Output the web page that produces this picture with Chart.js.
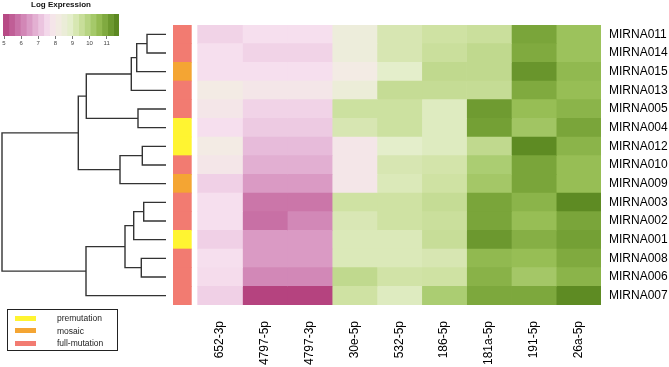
<!DOCTYPE html>
<html><head><meta charset="utf-8">
<script src="https://cdn.jsdelivr.net/npm/chart.js@4.4.1/dist/chart.umd.min.js"></script>
<style>
html,body{margin:0;padding:0;background:#fff;width:669px;height:367px;overflow:hidden;font-family:'Liberation Sans',Arial,sans-serif;}
canvas{position:absolute;display:block;}
#legend{position:absolute;left:7px;top:309px;width:111px;height:42px;box-sizing:border-box;border:1.5px solid #222;}
#legend .it{position:absolute;left:0;height:10px;width:110px;}
#legend .sw{position:absolute;left:7px;top:2.5px;width:21px;height:5px;}
#legend .tx{position:absolute;left:49px;top:0;font-size:8.5px;line-height:10px;color:#222;white-space:nowrap;}
</style></head><body>
<canvas id="main" width="669" height="367" style="left:0;top:0"></canvas>
<canvas id="dendro" width="170" height="280" style="left:0;top:25px"></canvas>
<canvas id="key" width="125" height="52" style="left:0;top:0"></canvas>
<div id="legend"></div>
<script>
// ---------- DATA ----------
const rowLabels = ['MIRNA011','MIRNA014','MIRNA015','MIRNA013','MIRNA005','MIRNA004','MIRNA012','MIRNA010','MIRNA009','MIRNA003','MIRNA002','MIRNA001','MIRNA008','MIRNA006','MIRNA007'];
const colLabels = ['652-3p','4797-5p','4797-3p','30e-5p','532-5p','186-5p','181a-5p','191-5p','26a-5p'];
const rowGroups = ['full-mutation','full-mutation','mosaic','full-mutation','full-mutation','premutation','premutation','full-mutation','mosaic','full-mutation','full-mutation','premutation','full-mutation','full-mutation','full-mutation'];
const groupNames = ['premutation','mosaic','full-mutation'];

// log expression per miRNA column (rows in order of rowLabels)
const e652_3p  = [7.4, 7.6, 7.6, 8.1, 7.9, 7.6, 8.1, 7.9, 7.35, 7.6, 7.6, 7.35, 7.6, 7.55, 7.35];
const e4797_5p = [7.6, 7.4, 7.6, 7.9, 7.4, 7.25, 7.0, 6.8, 6.45, 5.85, 5.75, 6.45, 6.45, 6.15, 5.0];
const e4797_3p = [7.6, 7.4, 7.6, 7.9, 7.4, 7.25, 7.0, 6.8, 6.45, 5.85, 6.15, 6.45, 6.45, 6.15, 5.0];
const e30e_5p  = [8.4, 8.4, 8.1, 8.5, 9.45, 9.2, 7.9, 7.9, 7.9, 9.4, 9.15, 9.1, 9.1, 9.7, 9.4];
const e532_5p  = [9.2, 9.2, 8.85, 9.6, 9.45, 9.45, 8.85, 9.2, 9.1, 9.4, 9.4, 9.1, 9.1, 9.35, 9.0];
const e186_5p  = [9.4, 9.5, 9.7, 9.6, 9.0, 9.0, 9.0, 9.3, 9.4, 9.6, 9.5, 9.55, 9.2, 9.4, 10.1];
const e181a_5p = [9.5, 9.7, 9.7, 9.6, 11.2, 11.1, 9.7, 10.1, 10.25, 11.0, 11.0, 11.25, 10.6, 10.75, 10.95];
const e191_5p  = [11.0, 10.9, 11.3, 10.9, 10.5, 10.3, 11.5, 11.0, 11.0, 10.7, 10.5, 10.8, 10.5, 10.25, 10.95];
const e26a_5p  = [10.4, 10.4, 10.6, 10.5, 10.7, 11.0, 10.7, 10.5, 10.5, 11.5, 11.0, 11.1, 10.9, 10.7, 11.5];

// dendrogram: merges [childA, childB, height]; leaves 0..14 (display order), merges numbered from 15
const dendroMerges = [
  [0, 1, 1.9], [15, 2, 2.93], [16, 3, 3.47], [4, 5, 2.8], [17, 18, 7.97],
  [6, 7, 2.37], [20, 8, 4.6], [19, 21, 8.77],
  [9, 10, 2.23], [23, 11, 3.23], [12, 13, 2.47], [24, 25, 4.1], [26, 14, 8.0],
  [22, 27, 16.4]
];

// colour key
const keyBreaks = [4.94, 5.28, 5.62, 5.96, 6.3, 6.64, 6.98, 7.32, 7.66, 8.0, 8.34, 8.68, 9.02, 9.36, 9.7, 10.04, 10.38, 10.72, 11.06, 11.4, 11.72];
const keyTicks = [5, 6, 7, 8, 9, 10, 11];

// ---------- STYLE ----------
const groupColors = {'premutation':'#FFF431','mosaic':'#F4A533','full-mutation':'#F27B71'};
const colorStops = [
  [4.9,'#B23D7A'],[5.75,'#C870A5'],[6.45,'#DA9AC4'],[7.0,'#E7BBDA'],[7.6,'#F6DFEE'],
  [8.1,'#F3EBE4'],[8.8,'#E6EFCF'],[9.4,'#CFE2A3'],[10.1,'#ABCD72'],[10.5,'#97BE55'],
  [11.0,'#7AA53A'],[11.5,'#5E8B23'],[11.8,'#527D1A']
];
function hex(h){return [1,3,5].map(i=>parseInt(h.substr(i,2),16));}
function colorFor(v){
  if (v <= colorStops[0][0]) return colorStops[0][1];
  for (let i=1;i<colorStops.length;i++){
    if (v <= colorStops[i][0]){
      const [v0,c0]=colorStops[i-1],[v1,c1]=colorStops[i];
      const t=(v-v0)/(v1-v0), a=hex(c0), b=hex(c1);
      return 'rgb('+a.map((x,k)=>Math.round(x+(b[k]-x)*t)).join(',')+')';
    }
  }
  return colorStops[colorStops.length-1][1];
}

Chart.defaults.font.family = "'Liberation Sans', Arial, sans-serif";
Chart.defaults.color = '#000';

// ---------- MAIN HEATMAP ----------
const columnSeries = [e652_3p, e4797_5p, e4797_3p, e30e_5p, e532_5p, e186_5p, e181a_5p, e191_5p, e26a_5p];
const ANNOT_L = -0.55, ANNOT_R = -0.14;
const barBase = {borderWidth:0, grouped:false, barPercentage:1, categoryPercentage:1};
const datasets = columnSeries.map((vals,c)=>Object.assign({
  label: colLabels[c],
  data: vals.map(()=>[c, c+1]),
  backgroundColor: vals.map(v=>colorFor(v))
}, barBase));
datasets.push(Object.assign({
  label:'group',
  data: rowGroups.map(()=>[ANNOT_L, ANNOT_R]),
  backgroundColor: rowGroups.map(g=>groupColors[g])
}, barBase));

new Chart(document.getElementById('main'), {
  type:'bar',
  data:{labels: rowLabels, datasets},
  options:{
    indexAxis:'y', responsive:false, animation:false,
    layout:{padding:{left:173, top:25, right:0, bottom:0}},
    plugins:{legend:{display:false}, tooltip:{enabled:false}, title:{display:false}},
    scales:{
      x:{type:'linear', min:ANNOT_L, max:colLabels.length,
         grid:{display:false, drawTicks:false}, border:{display:false},
         afterBuildTicks:s=>{ s.ticks = colLabels.map((_,i)=>({value:i+0.5})); },
         ticks:{autoSkip:false, minRotation:90, maxRotation:90, padding:16, color:'#000', font:{size:12},
                callback:(v,i)=>colLabels[i]},
         afterFit:s=>{ s.height = 62; }},
      y:{type:'category', position:'right', grid:{display:false, drawTicks:false}, border:{display:false},
         ticks:{color:'#000', font:{size:12}, padding:8, autoSkip:false},
         afterFit:s=>{ s.width = 68; }}
    }
  }
});

// ---------- DENDROGRAM ----------
const nodeY = [], nodeH = [];
rowLabels.forEach((_,i)=>{ nodeY[i]=i; nodeH[i]=0; });
const dSets = dendroMerges.map((m,k)=>{
  const [a,b,h] = m, id = rowLabels.length + k;
  nodeY[id] = (nodeY[a]+nodeY[b])/2; nodeH[id] = h;
  return {
    data:[{x:nodeH[a],y:nodeY[a]},{x:h,y:nodeY[a]},{x:h,y:nodeY[b]},{x:nodeH[b],y:nodeY[b]}],
    showLine:true, pointRadius:0, borderColor:'#333', borderWidth:1.4, tension:0, clip:false
  };
});
new Chart(document.getElementById('dendro'), {
  type:'scatter',
  data:{datasets:dSets},
  options:{
    responsive:false, animation:false,
    layout:{padding:{left:2, right:4, top:0, bottom:0}},
    plugins:{legend:{display:false}, tooltip:{enabled:false}},
    scales:{
      x:{type:'linear', reverse:true, min:0, max:Math.max(...dendroMerges.map(m=>m[2])), display:false},
      y:{type:'linear', reverse:true, min:-0.5, max:rowLabels.length-0.5, display:false}
    }
  }
});

// ---------- COLOUR KEY ----------
const keySets = [];
for (let i=0;i<keyBreaks.length-1;i++){
  keySets.push(Object.assign({data:[[keyBreaks[i], keyBreaks[i+1]]],
    backgroundColor: colorFor((keyBreaks[i]+keyBreaks[i+1])/2)}, barBase));
}
keySets.push({data:[[keyBreaks[0], keyBreaks[keyBreaks.length-1]]], backgroundColor:'rgba(0,0,0,0)',
  borderColor:'#666', borderWidth:0.8, borderSkipped:false, grouped:false, barPercentage:1, categoryPercentage:1, inflateAmount:0});
new Chart(document.getElementById('key'), {
  type:'bar',
  data:{labels:['key'], datasets:keySets},
  options:{
    indexAxis:'y', responsive:false, animation:false,
    layout:{padding:{left:3, right:6, top:0, bottom:0}},
    plugins:{legend:{display:false}, tooltip:{enabled:false},
      title:{display:true, text:'Log Expression', color:'#111', font:{size:8, weight:'bold'}, padding:{top:0, bottom:4.4}}},
    scales:{
      x:{type:'linear', min:keyBreaks[0], max:keyBreaks[keyBreaks.length-1],
         grid:{display:true, drawOnChartArea:false, drawTicks:true, tickLength:3, color:'#555', lineWidth:0.8},
         border:{display:false},
         afterBuildTicks:s=>{ s.ticks = keyTicks.map(v=>({value:v})); },
         ticks:{color:'#444', font:{size:6}, padding:1, autoSkip:false, maxRotation:0},
         afterFit:s=>{ s.height = 16; }},
      y:{display:false}
    }
  }
});

// ---------- GROUP LEGEND ----------
const lg = document.getElementById('legend');
groupNames.forEach((g,i)=>{
  const it = document.createElement('div'); it.className='it'; it.style.top=(3+i*12.5)+'px';
  const sw = document.createElement('div'); sw.className='sw'; sw.style.background=groupColors[g];
  const tx = document.createElement('div'); tx.className='tx'; tx.textContent=g;
  it.appendChild(sw); it.appendChild(tx); lg.appendChild(it);
});
</script>
</body></html>
